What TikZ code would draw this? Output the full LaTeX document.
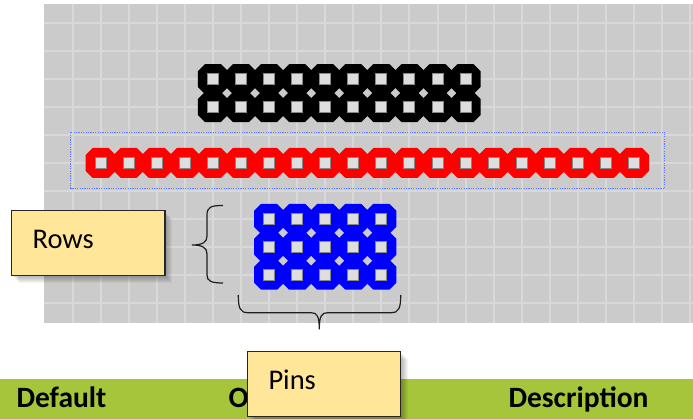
\documentclass[tikz,border=0pt]{standalone}
\usepackage{fontspec}
\setmainfont{Carlito}
\definecolor{bggray}{RGB}{203,203,203}
\definecolor{gridline}{RGB}{216,216,216}
\definecolor{holefill}{RGB}{222,222,222}
\definecolor{holeedge}{RGB}{135,135,135}
\definecolor{callfill}{RGB}{255,230,153}
\definecolor{barfill}{RGB}{165,198,59}
\definecolor{selblue}{RGB}{95,125,255}
\definecolor{bracecol}{RGB}{30,30,30}
\begin{document}
\begin{tikzpicture}[x=1pt,y=-1pt,
  pics/pcbpad/.style={code={\fill[#1] (-8,-15) -- (8,-15) -- (15,-8) -- (15,8) -- (8,15) -- (-8,15) -- (-15,8) -- (-15,-8) -- cycle;}},
  pics/pcbhole/.style={code={\filldraw[fill=holefill, draw=holeedge, line width=1pt] (-5.5,-5.5) rectangle (5.5,5.5);}},
  gridstroke/.style={draw=gridline, line width=2pt},
  bracestroke/.style={draw=bracecol, line width=1.2pt},
  callout/.style={draw=black!85, fill=callfill, line width=1.2pt,
    minimum width=153.3pt, minimum height=65pt, text width=111.3pt,
    inner xsep=21pt, inner ysep=0pt, align=left, text height=18pt, text depth=7pt,
    font=\fontsize{28.5}{34}\selectfont, anchor=north west},
  hdr/.style={inner sep=0pt, anchor=base west, font=\fontsize{29.5}{34}\selectfont\bfseries},
  shadowpiece/.style={fill=black, opacity=0.045}
]
\useasboundingbox (0,0) rectangle (693,419);
% board background and grid
\fill[bggray] (44,4) rectangle (693,322.7);
\foreach \k in {0,...,22} \draw[gridstroke] ({72.6+28.07*\k},4) -- ({72.6+28.07*\k},322.7);
\foreach \k in {0,...,10} \draw[gridstroke] (44,{23.2+27.95*\k}) -- (693,{23.2+27.95*\k});
% black header 2x10
\foreach \c in {5,...,14} \foreach \r in {2,3}
  \pic at ({72.6+28.07*\c},{23.2+27.95*\r}) {pcbpad=black};
\foreach \c in {5,...,14} \foreach \r in {2,3}
  \pic at ({72.6+28.07*\c},{23.2+27.95*\r}) {pcbhole};
% red header 1x20
\foreach \c in {1,...,20}
  \pic at ({72.6+28.07*\c},{23.2+27.95*5}) {pcbpad=red};
\foreach \c in {1,...,20}
  \pic at ({72.6+28.07*\c},{23.2+27.95*5}) {pcbhole};
\draw[selblue, line width=1.5pt, dash pattern=on 1.2pt off 1.2pt] (70.7,132.3) rectangle (664.7,188.3);
% blue header 3x5
\foreach \c in {7,...,11} \foreach \r in {7,8,9}
  \pic at ({72.6+28.07*\c},{23.2+27.95*\r}) {pcbpad=blue};
\foreach \c in {7,...,11} \foreach \r in {7,8,9}
  \pic at ({72.6+28.07*\c},{23.2+27.95*\r}) {pcbhole};
% rows brace
\coordinate (rbtop) at (223,205.5);
\coordinate (rbtip) at (192,245);
\coordinate (rbbot) at (223,283);
\draw[bracestroke] (rbtop) .. controls (211,205.5) and (207,207) .. (207,215) -- (207,236)
  .. controls (207,242) and (203,245) .. (rbtip)
  .. controls (203,245) and (207,248) .. (207,254) -- (207,275)
  .. controls (207,281) and (211,283) .. (rbbot);
% pins brace
\coordinate (pbleft) at (238.3,295);
\coordinate (pbtip) at (319.3,329.3);
\coordinate (pbright) at (400.7,295);
\draw[bracestroke] (pbleft) .. controls (238.3,308) and (240,312.7) .. (248,312.7) -- (311,312.7)
  .. controls (317,312.7) and (319.3,316) .. (pbtip)
  .. controls (319.3,316) and (321.6,312.7) .. (327.6,312.7) -- (391,312.7)
  .. controls (399,312.7) and (400.7,308) .. (pbright);
% table header bar
\fill[barfill] (0,379.3) rectangle (693,419);
\node[hdr] (hdefault) at (16.3,407.3) {Default};
\node[hdr] (hother) at (228.3,407.3) {O};
\node[hdr] (hdesc) at (508.3,407.3) {Description};
% callout shadows
\foreach \i in {1,...,8} \fill[shadowpiece] ({11+\i},{210+\i}) rectangle ({164.3+\i},{275+\i});
\foreach \i in {1,...,8} \fill[shadowpiece] ({246.9+\i},{350.7+\i}) rectangle ({400.4+\i},{415.7+\i});
% callouts
\node[callout] (rows) at (11,210) {Rows};
\node[callout] (pins) at (246.9,350.7) {Pins};
\end{tikzpicture}
\end{document}
